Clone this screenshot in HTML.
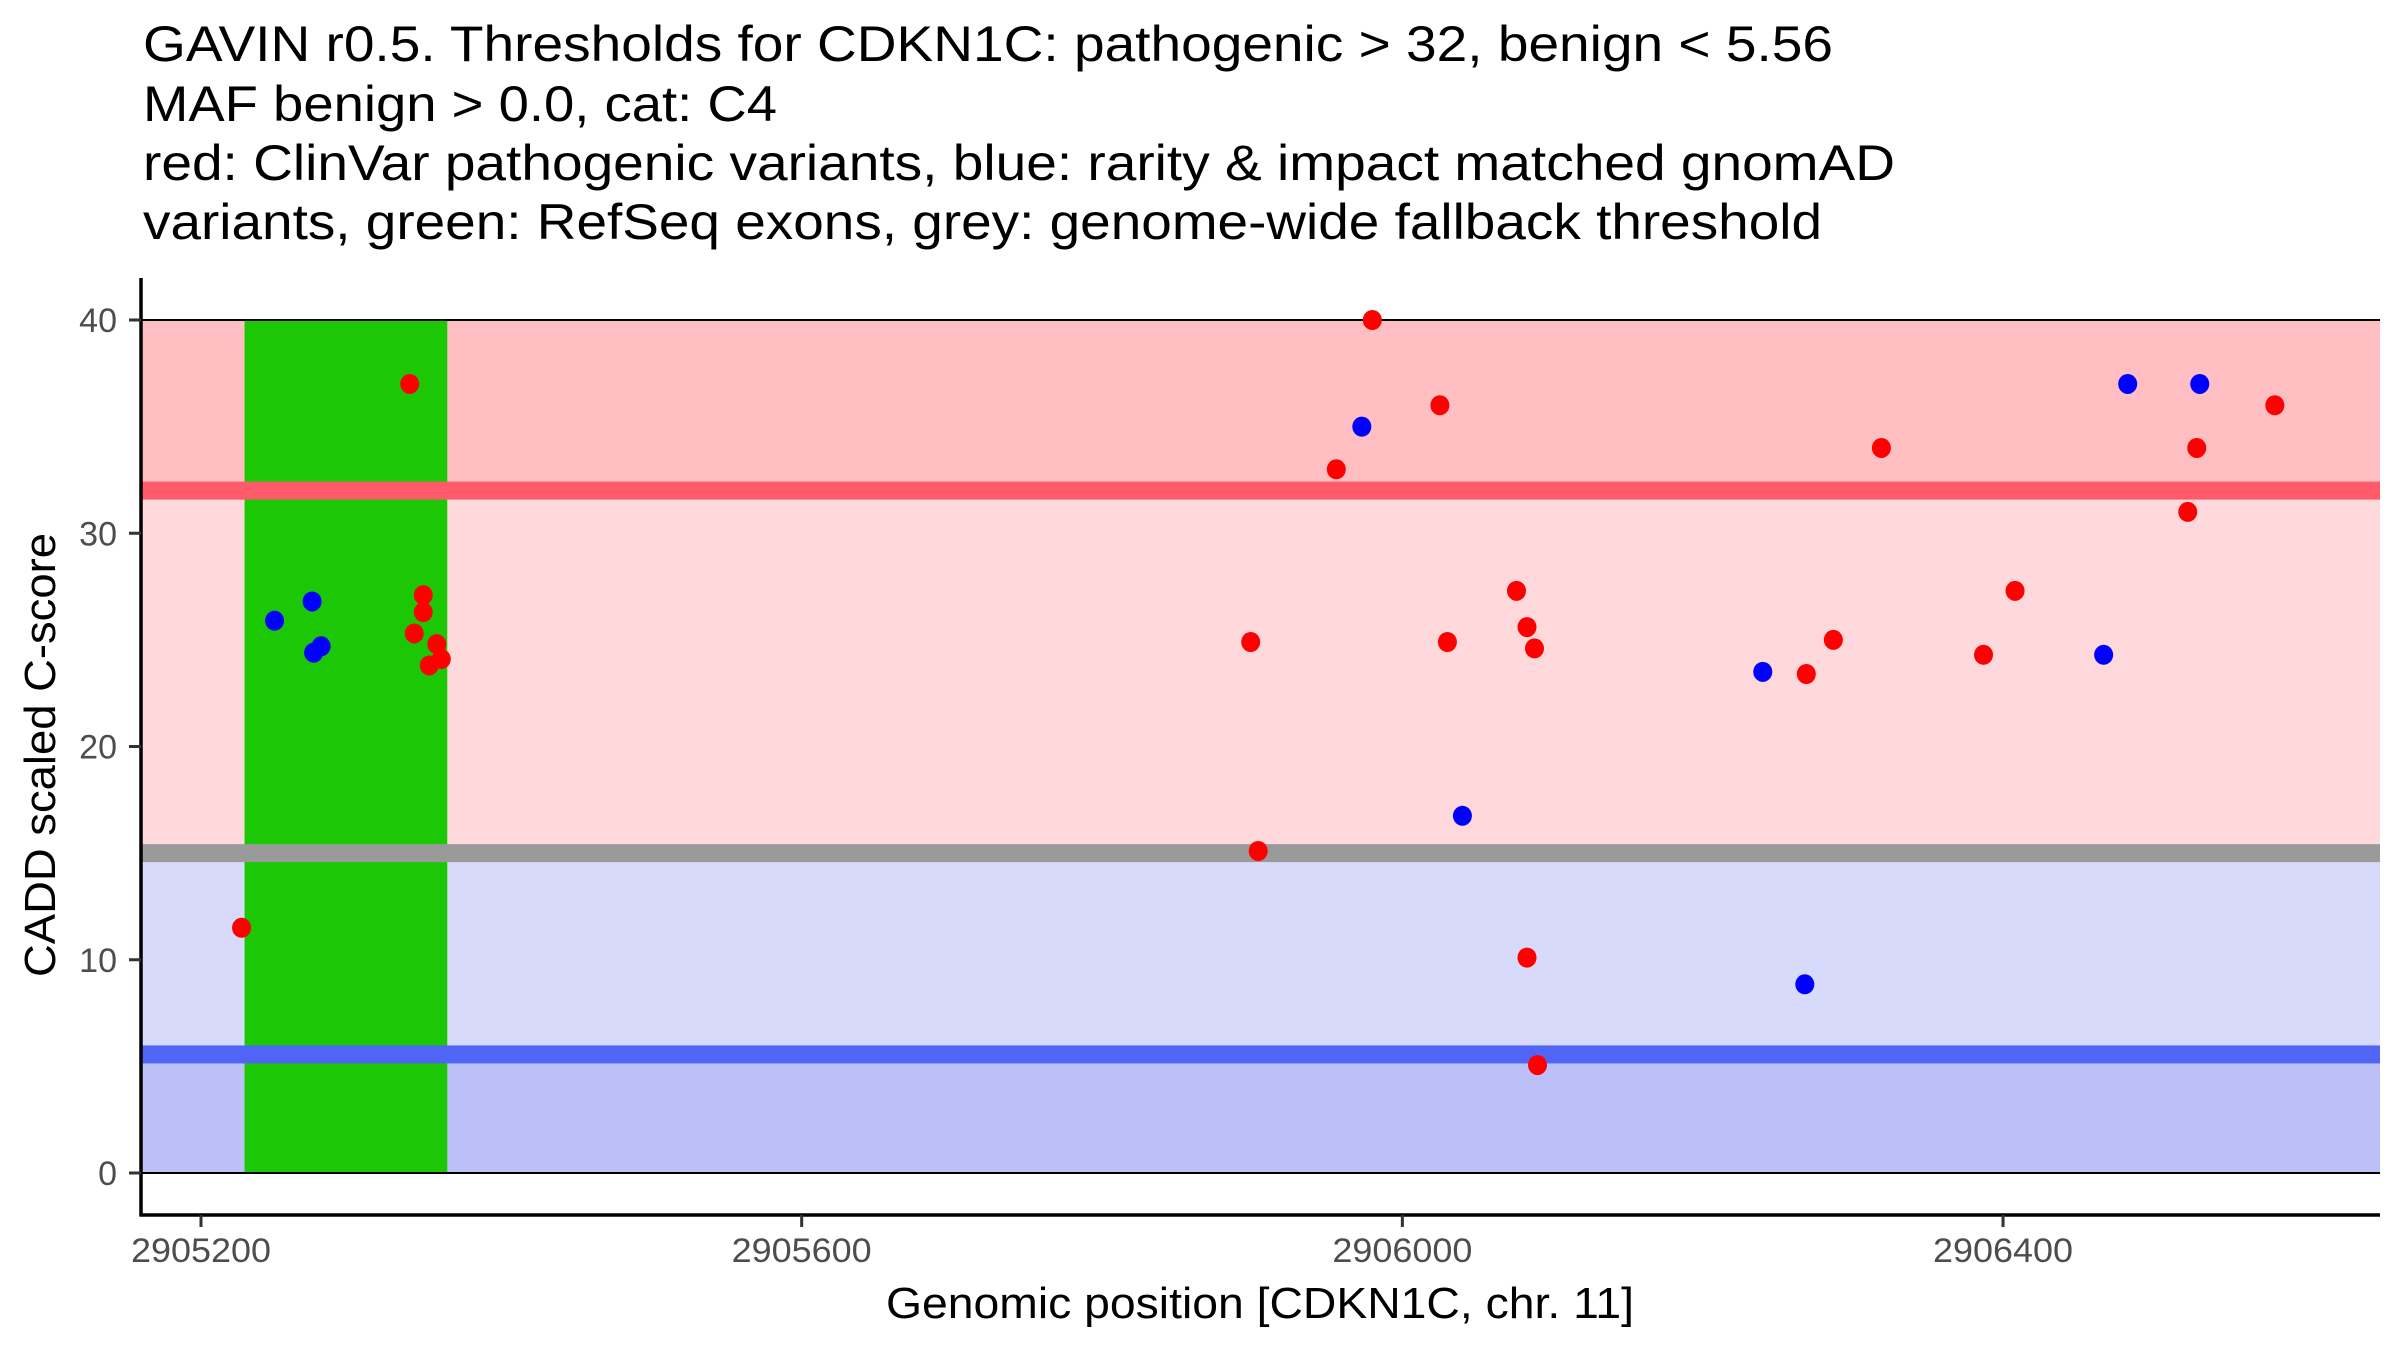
<!DOCTYPE html>
<html><head><meta charset="utf-8"><style>
html,body{margin:0;padding:0;background:#fff}
svg{display:block}
text{font-family:"Liberation Sans",Arial,sans-serif}
</style></head><body>
<svg id="chart" width="2400" height="1350" viewBox="0 0 2400 1350" xmlns="http://www.w3.org/2000/svg">
<g font-size="50" fill="#000">
<text x="143" y="61" textLength="1690" lengthAdjust="spacingAndGlyphs">GAVIN r0.5. Thresholds for CDKN1C: pathogenic &gt; 32, benign &lt; 5.56</text>
<text x="143" y="121" textLength="634" lengthAdjust="spacingAndGlyphs">MAF benign &gt; 0.0, cat: C4</text>
<text x="143" y="180" textLength="1752" lengthAdjust="spacingAndGlyphs">red: ClinVar pathogenic variants, blue: rarity &amp; impact matched gnomAD</text>
<text x="143" y="239" textLength="1679" lengthAdjust="spacingAndGlyphs">variants, green: RefSeq exons, grey: genome-wide fallback threshold</text>
</g>
<g id="bands"></g>
<g id="exons"></g>
<g id="lines"></g>
<g id="points"></g>
<g id="axes"></g>
<text x="1260" y="1318" font-size="44" text-anchor="middle" textLength="748" lengthAdjust="spacingAndGlyphs">Genomic position [CDKN1C, chr. 11]</text>
<text transform="translate(55,755) rotate(-90)" font-size="44" text-anchor="middle" textLength="444" lengthAdjust="spacingAndGlyphs">CADD scaled C-score</text>
</svg>
<script>
const xTicks = [2905200, 2905600, 2906000, 2906400];
const yTicks = [0, 10, 20, 30, 40];
const pathogenicThreshold = 32;
const benignThreshold = 5.56;
const fallbackThreshold = 15;
const yMax = 40;
const exonStarts = [2905229];
const exonEnds = [2905364];
const redPos = [2905980,2906025,2905956,2906319,2906529,2906581,2906523,2906076,2906408,2905899,2906030,2906083,2906088,2906287,2906269,2906387,2905904,2906083,2906090,2905339,2905227,2905348,2905348,2905342,2905357,2905360,2905352];
const redScore = [40,36,33,34,34,36,31,27.3,27.3,24.9,24.9,25.6,24.6,25,23.4,24.3,15.1,10.1,5.06,37,11.5,27.1,26.3,25.3,24.8,24.1,23.8];
const bluePos = [2905973,2906483,2906531,2906240,2906467,2906040,2906268,2905249,2905274,2905275,2905280];
const blueScore = [35,37,37,23.5,24.3,16.75,8.85,25.9,26.8,24.4,24.7];

const NS='http://www.w3.org/2000/svg';
const L=141, R=2380;
function xs(v){return 201 + (v-2905200)*1.5017;}
function ys(v){return 1173 - v*21.325;}
function mk(tag, attrs, parent){const e=document.createElementNS(NS,tag);for(const k in attrs)e.setAttribute(k,attrs[k]);document.getElementById(parent).appendChild(e);return e;}

const bandDefs=[[pathogenicThreshold,yMax,'#FFBEC2','band-pathogenic'],[fallbackThreshold,pathogenicThreshold,'#FFD8DC','band-uncertain-high'],[benignThreshold,fallbackThreshold,'#D8DAFC','band-uncertain-low'],[0,benignThreshold,'#BBC0F8','band-benign']];
bandDefs.forEach(b=>{
  const r=mk('rect',{x:L,y:ys(b[1]),width:R-L,height:ys(b[0])-ys(b[1]),fill:b[2]},'bands');
  
  
});
[[pathogenicThreshold,'#FF5A6A','pathogenic-threshold-line'],[fallbackThreshold,'#9A9A9A','fallback-threshold-line'],[benignThreshold,'#5065F5','benign-threshold-line']].forEach(t=>{
  const l=mk('rect',{x:L,y:ys(t[0])-9,width:R-L,height:18,fill:t[1]},'lines');
  
  
});
exonStarts.forEach((s,i)=>{
  const r=mk('rect',{x:xs(s),y:ys(yMax),width:xs(exonEnds[i])-xs(s),height:ys(0)-ys(yMax),fill:'#1CC806'},'exons');
  
  
});
[yMax,0].forEach(v=>{
  const l=mk('line',{x1:L,x2:R,y1:ys(v),y2:ys(v),stroke:'#000','stroke-width':2},'exons');
  
  
});
redPos.forEach((p,i)=>{
  const c=mk('ellipse',{cx:xs(p),cy:ys(redScore[i]),rx:9.5,ry:10,fill:'#FF0000'},'points');
  
  
});
bluePos.forEach((p,i)=>{
  const c=mk('ellipse',{cx:xs(p),cy:ys(blueScore[i]),rx:9.5,ry:10,fill:'#0000FF'},'points');
  
  
});
const ya=mk('line',{x1:L,x2:L,y1:278,y2:1216,stroke:'#000','stroke-width':3.5},'axes');


const xa=mk('line',{x1:L-1.5,x2:R,y1:1215,y2:1215,stroke:'#000','stroke-width':3.5},'axes');


yTicks.forEach(v=>{
  const t=mk('line',{x1:L-12,x2:L,y1:ys(v),y2:ys(v),stroke:'#333','stroke-width':3},'axes');
  
  
  const lb=mk('text',{x:117,y:ys(v)+12,'font-size':34,fill:'#4D4D4D','text-anchor':'end'},'axes');
  lb.textContent=v;
  
  
});
xTicks.forEach(v=>{
  const t=mk('line',{x1:xs(v),x2:xs(v),y1:1215,y2:1227,stroke:'#333','stroke-width':3},'axes');
  
  
  const lb=mk('text',{x:xs(v),y:1262,'font-size':34,fill:'#4D4D4D','text-anchor':'middle','textLength':140,'lengthAdjust':'spacingAndGlyphs'},'axes');
  lb.textContent=v;
  
  
});
</script>
</body></html>
